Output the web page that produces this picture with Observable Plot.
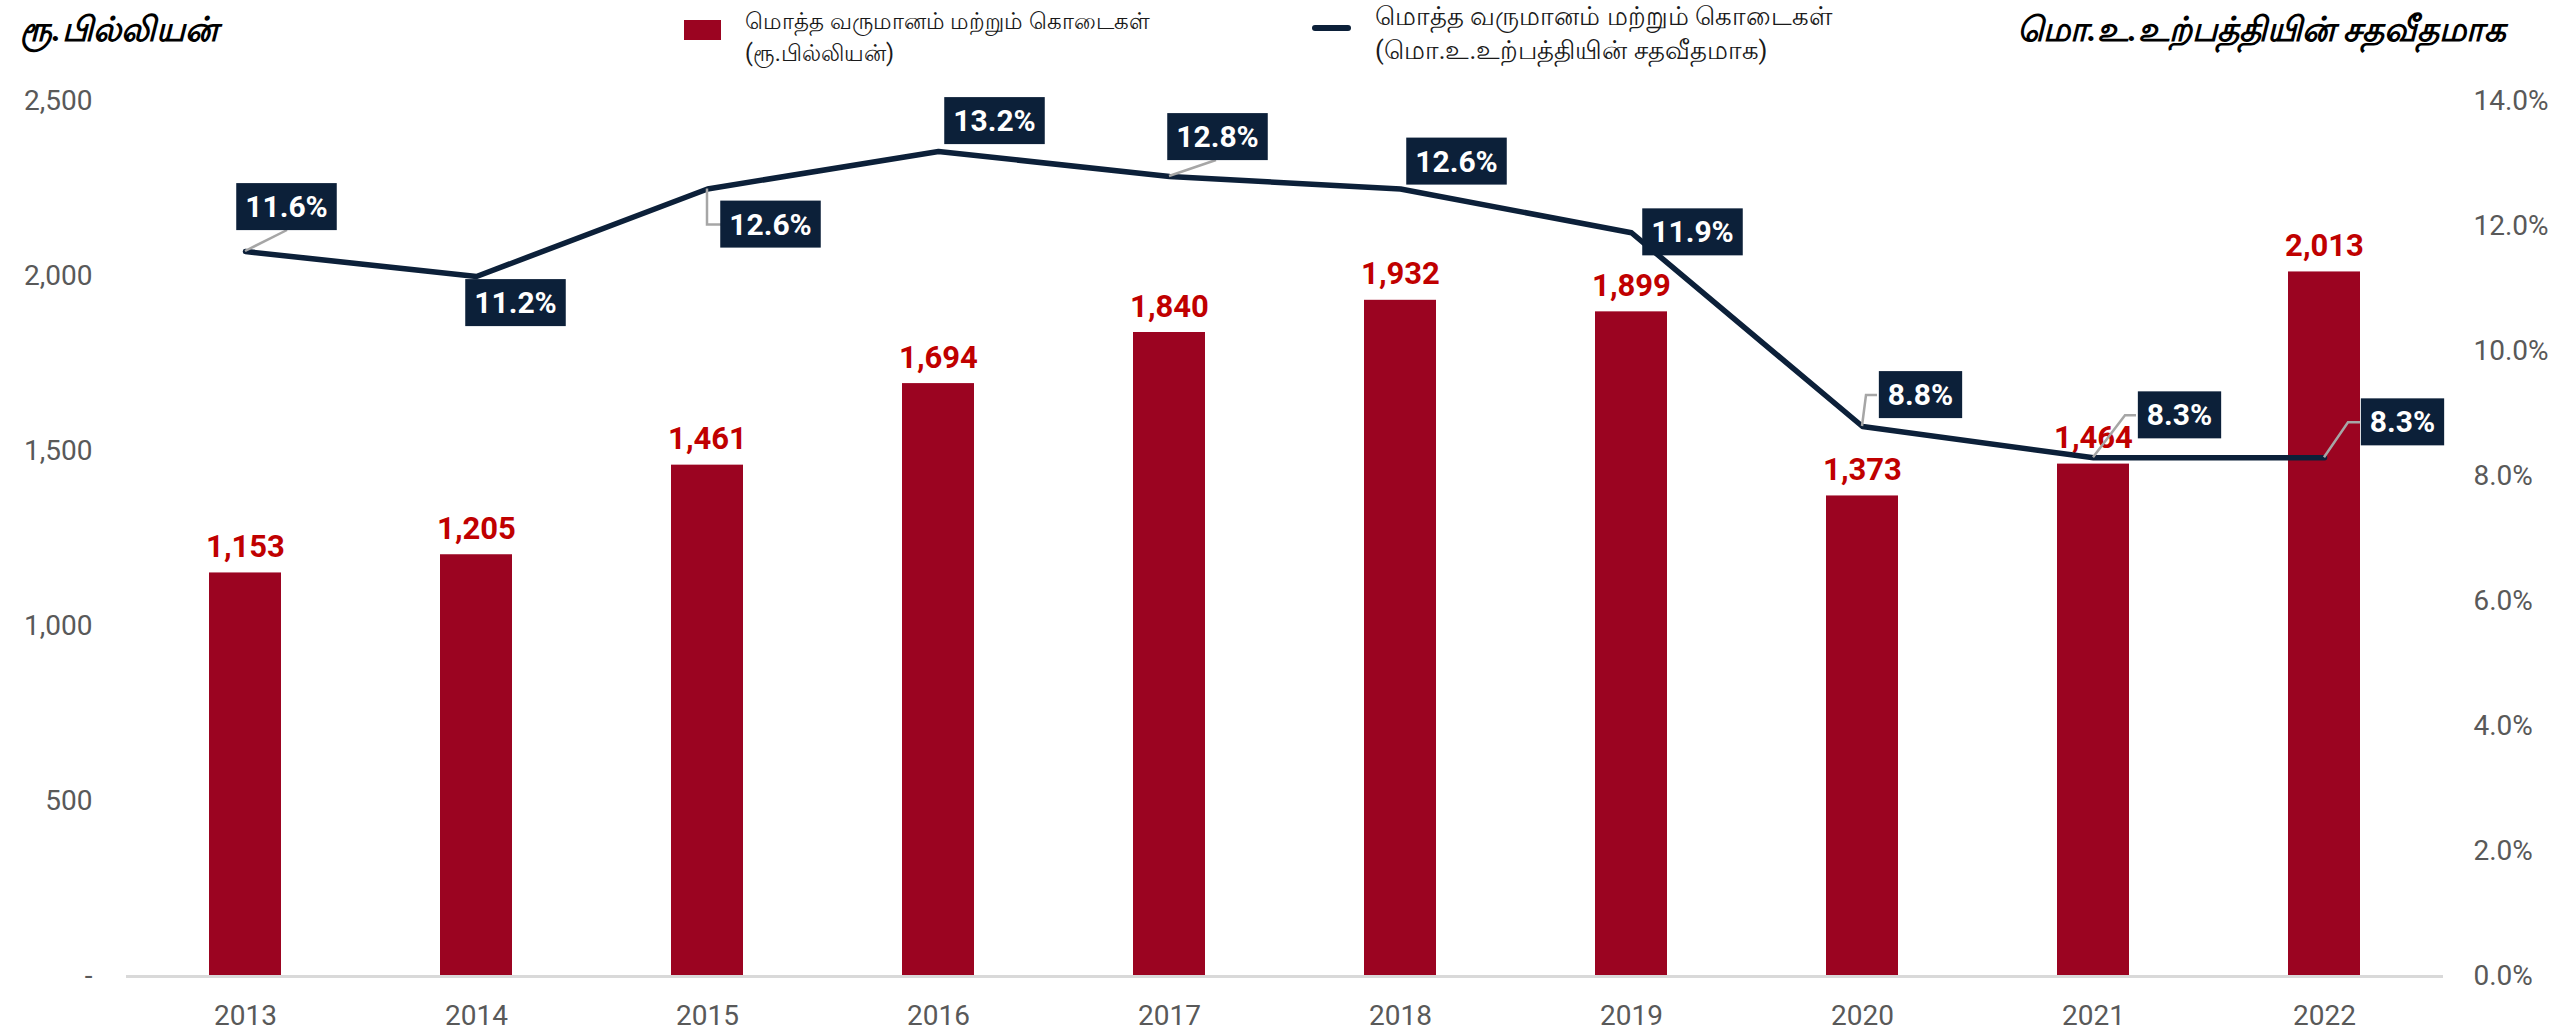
<!DOCTYPE html>
<html>
<head>
<meta charset="utf-8">
<script src="https://cdn.jsdelivr.net/npm/d3@7"></script>
<script src="https://cdn.jsdelivr.net/npm/@observablehq/plot@0.6"></script>
<style>
  html, body { margin: 0; padding: 0; background: #fff; }
  body { width: 2552px; height: 1035px; overflow: hidden; font-family: Roboto, "Noto Sans", sans-serif; }
  #header { position: relative; width: 2552px; height: 70px; }
  .title { position: absolute; top: 12px; font-size: 34px; font-weight: 700; font-style: italic; color: #000; line-height: 1; white-space: nowrap; }
  #ltitle { left: 20px; }
  #rtitle { right: 46px; }
  .legtext { position: absolute; font-size: 23px; color: #1a1a1a; line-height: 32px; white-space: nowrap; }
  #sw1 { position: absolute; left: 684px; top: 20px; width: 37px; height: 20px; background: #9b0421; }
  #sw2 { position: absolute; left: 1312px; top: 25px; width: 39px; height: 6px; border-radius: 3px; background: #0c2039; }
  #lt1 { left: 745px; top: 6px; }
  #lt2 { left: 1375px; top: -1px; font-size: 25.5px; line-height: 34px; }
</style>
</head>
<body>
<div id="header">
  <div class="title" id="ltitle"></div>
  <div class="title" id="rtitle"></div>
  <div id="sw1"></div>
  <div class="legtext" id="lt1"></div>
  <div id="sw2"></div>
  <div class="legtext" id="lt2"></div>
</div>
<div id="chart"></div>
<script>
// ---- data ----
const years = ["2013", "2014", "2015", "2016", "2017", "2018", "2019", "2020", "2021", "2022"];
const revenueGrants = [1153, 1205, 1461, 1694, 1840, 1932, 1899, 1373, 1464, 2013];          // Rs. billion
const revenueGrantsPctGDP = [11.6, 11.2, 12.6, 13.2, 12.8, 12.6, 11.9, 8.8, 8.3, 8.3];         // % of GDP
const leftTicks = [0, 500, 1000, 1500, 2000, 2500];
const rightTicks = [0, 2, 4, 6, 8, 10, 12, 14];
const leftTitle = "ரூ.பில்லியன்";
const rightTitle = "மொ.உ.உற்பத்தியின் சதவீதமாக";
const legendBar = ["மொத்த வருமானம் மற்றும் கொடைகள்", "(ரூ.பில்லியன்)"];
const legendLine = ["மொத்த வருமானம் மற்றும் கொடைகள்", "(மொ.உ.உற்பத்தியின் சதவீதமாக)"];

// ---- layout of the % call-out boxes (pixel offsets from each line point) ----
const calloutLayout = [
  {dx: 41, dy: -44, leader: [[0, 0], [42, -21]]},
  {dx: 39, dy: 27, leader: null},
  {dx: 63, dy: 36, leader: [[0, 0], [0, 36], [14, 36]]},
  {dx: 56, dy: -30, leader: null},
  {dx: 48, dy: -39, leader: [[0, 0], [47, -16]]},
  {dx: 56, dy: -27, leader: null},
  {dx: 61, dy: 0, leader: null},
  {dx: 58, dy: -31, leader: [[0, 0], [4, -31], [15, -31]]},
  {dx: 86, dy: -42, leader: [[0, 0], [32, -42], [43, -42]]},
  {dx: 78, dy: -35, leader: [[0, 0], [24, -35], [36, -35]]}
];

document.getElementById("ltitle").textContent = leftTitle;
document.getElementById("rtitle").textContent = rightTitle;
document.getElementById("lt1").innerHTML = legendBar.join("<br>");
document.getElementById("lt2").innerHTML = legendLine.join("<br>");

const leftMax = 2500, rightMax = 14;
const k = leftMax / rightMax;
const data = years.map((year, i) => ({year, value: revenueGrants[i], pct: revenueGrantsPctGDP[i], pctY: revenueGrantsPctGDP[i] * k}));

const BAR = "#9b0421", NAVY = "#0c2039", GREY = "#595959";
const FONT = "Roboto, 'Noto Sans', sans-serif";

const chart = Plot.plot({
  width: 2552,
  height: 965,
  marginTop: 31,
  marginBottom: 59,
  marginLeft: 126,
  marginRight: 109,
  style: {fontFamily: FONT, background: "#fff", overflow: "visible"},
  x: {domain: years, paddingInner: 0.69, paddingOuter: 0.345, axis: null},
  y: {domain: [0, leftMax], axis: null},
  marks: [
    Plot.axisX({label: null, tickSize: 0, tickPadding: 29, fontSize: 28, color: GREY}),
    Plot.axisY({anchor: "left", label: null, ticks: leftTicks, tickFormat: d => d === 0 ? "-" : d3.format(",")(d), tickSize: 0, tickPadding: 34, fontSize: 28, color: GREY}),
    Plot.axisY({anchor: "right", label: null, ticks: rightTicks.map(t => t * k), tickFormat: d => (d / k).toFixed(1) + "%", tickSize: 0, tickPadding: 30, textAnchor: "start", fontSize: 28, color: GREY}),
    Plot.barY(data, {x: "year", y: "value", fill: BAR}),
    Plot.ruleY([0], {stroke: "#d9d9d9", strokeWidth: 3}),
    Plot.text(data, {x: "year", y: "value", text: d => d3.format(",")(d.value), dy: -16, lineAnchor: "bottom", fill: "#c00000", fontWeight: 700, fontSize: 31}),
    Plot.line(data, {x: "year", y: "pctY", stroke: NAVY, strokeWidth: 5.5}),
    ...calloutLayout.map((L, i) => Plot.text([data[i]], {
      x: "year", y: "pctY", text: d => d.pct.toFixed(1) + "%",
      dx: L.dx, dy: L.dy, fill: "#fff", fontWeight: 700, fontSize: 30,
      textAnchor: "middle", lineAnchor: "middle", className: "callout"
    }))
  ]
});

document.getElementById("chart").appendChild(chart);

// leaders, using the chart's own scales
const xs = chart.scale("x"), ys = chart.scale("y");
const firstCallout = chart.querySelector("g.callout");
const leaderG = document.createElementNS("http://www.w3.org/2000/svg", "g");
firstCallout.parentNode.insertBefore(leaderG, firstCallout);
calloutLayout.forEach((L, i) => {
  if (!L.leader) return;
  const px = xs.apply(data[i].year) + xs.bandwidth / 2;
  const py = ys.apply(data[i].pctY);
  d3.select(leaderG).append("path")
    .attr("d", d3.line()(L.leader.map(([a, b]) => [px + a, py + b])))
    .attr("fill", "none").attr("stroke", "#a6a6a6").attr("stroke-width", 2.5);
});

// navy boxes behind the call-out texts
chart.querySelectorAll("g.callout").forEach(g => {
  g.querySelectorAll("text").forEach(t => {
    const bb = t.getBBox();
    const padX = 9, h = 47;
    const cy = bb.y + bb.height / 2;
    const r = document.createElementNS("http://www.w3.org/2000/svg", "rect");
    r.setAttribute("x", bb.x - padX);
    r.setAttribute("y", cy - h / 2);
    r.setAttribute("width", bb.width + 2 * padX);
    r.setAttribute("height", h);
    r.setAttribute("fill", NAVY);
    if (t.getAttribute("transform")) r.setAttribute("transform", t.getAttribute("transform"));
    t.parentNode.insertBefore(r, t);
  });
});
</script>
</body>
</html>
